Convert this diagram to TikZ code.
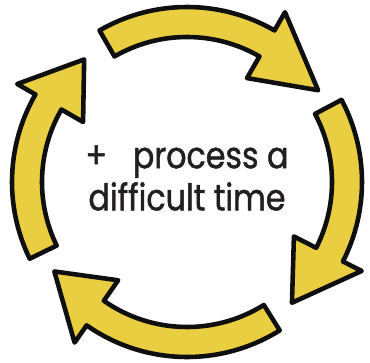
\documentclass[tikz,border=0pt]{standalone}
\usepackage{fontspec}
\setmainfont{Poppins}[FakeBold=1.2, FakeStretch=0.86]
\usepackage{tikz}
\definecolor{cycyellow}{RGB}{232,206,64}
\definecolor{cycink}{RGB}{15,15,15}
\definecolor{txtdark}{RGB}{35,31,32}
\tikzset{
  cyclearrow/.style={fill=cycyellow, draw=cycink, line width=2.6pt,
    line join=round},
  bigtext/.style={align=center, text=txtdark,
    font=\fontsize{21}{24}\selectfont}
}
% one curved arrow: tail angle, head base angle, tip angle
\newcommand{\cyclearc}[3]{%
  \draw[cyclearrow] (#1:175) arc[start angle=#1, end angle=#2, radius=175]
    -- (#2:196) -- (#3:160) -- (#2:120) -- (#2:145)
    arc[start angle=#2, end angle=#1, radius=145] -- cycle;}

\begin{document}
\begin{tikzpicture}[scale=0.02]
  \useasboundingbox (-187,-181) rectangle (183,182);

  % Four arrows going round
  \cyclearc{120}{60}{35}
  \cyclearc{28}{-27}{-49}
  \cyclearc{-58}{-125}{-146}
  \cyclearc{206}{150}{130}

  % Centre text
  \node[bigtext] (label) at (0,4) {+\hspace{0.7em}process a\\difficult time};
\end{tikzpicture}
\end{document}
